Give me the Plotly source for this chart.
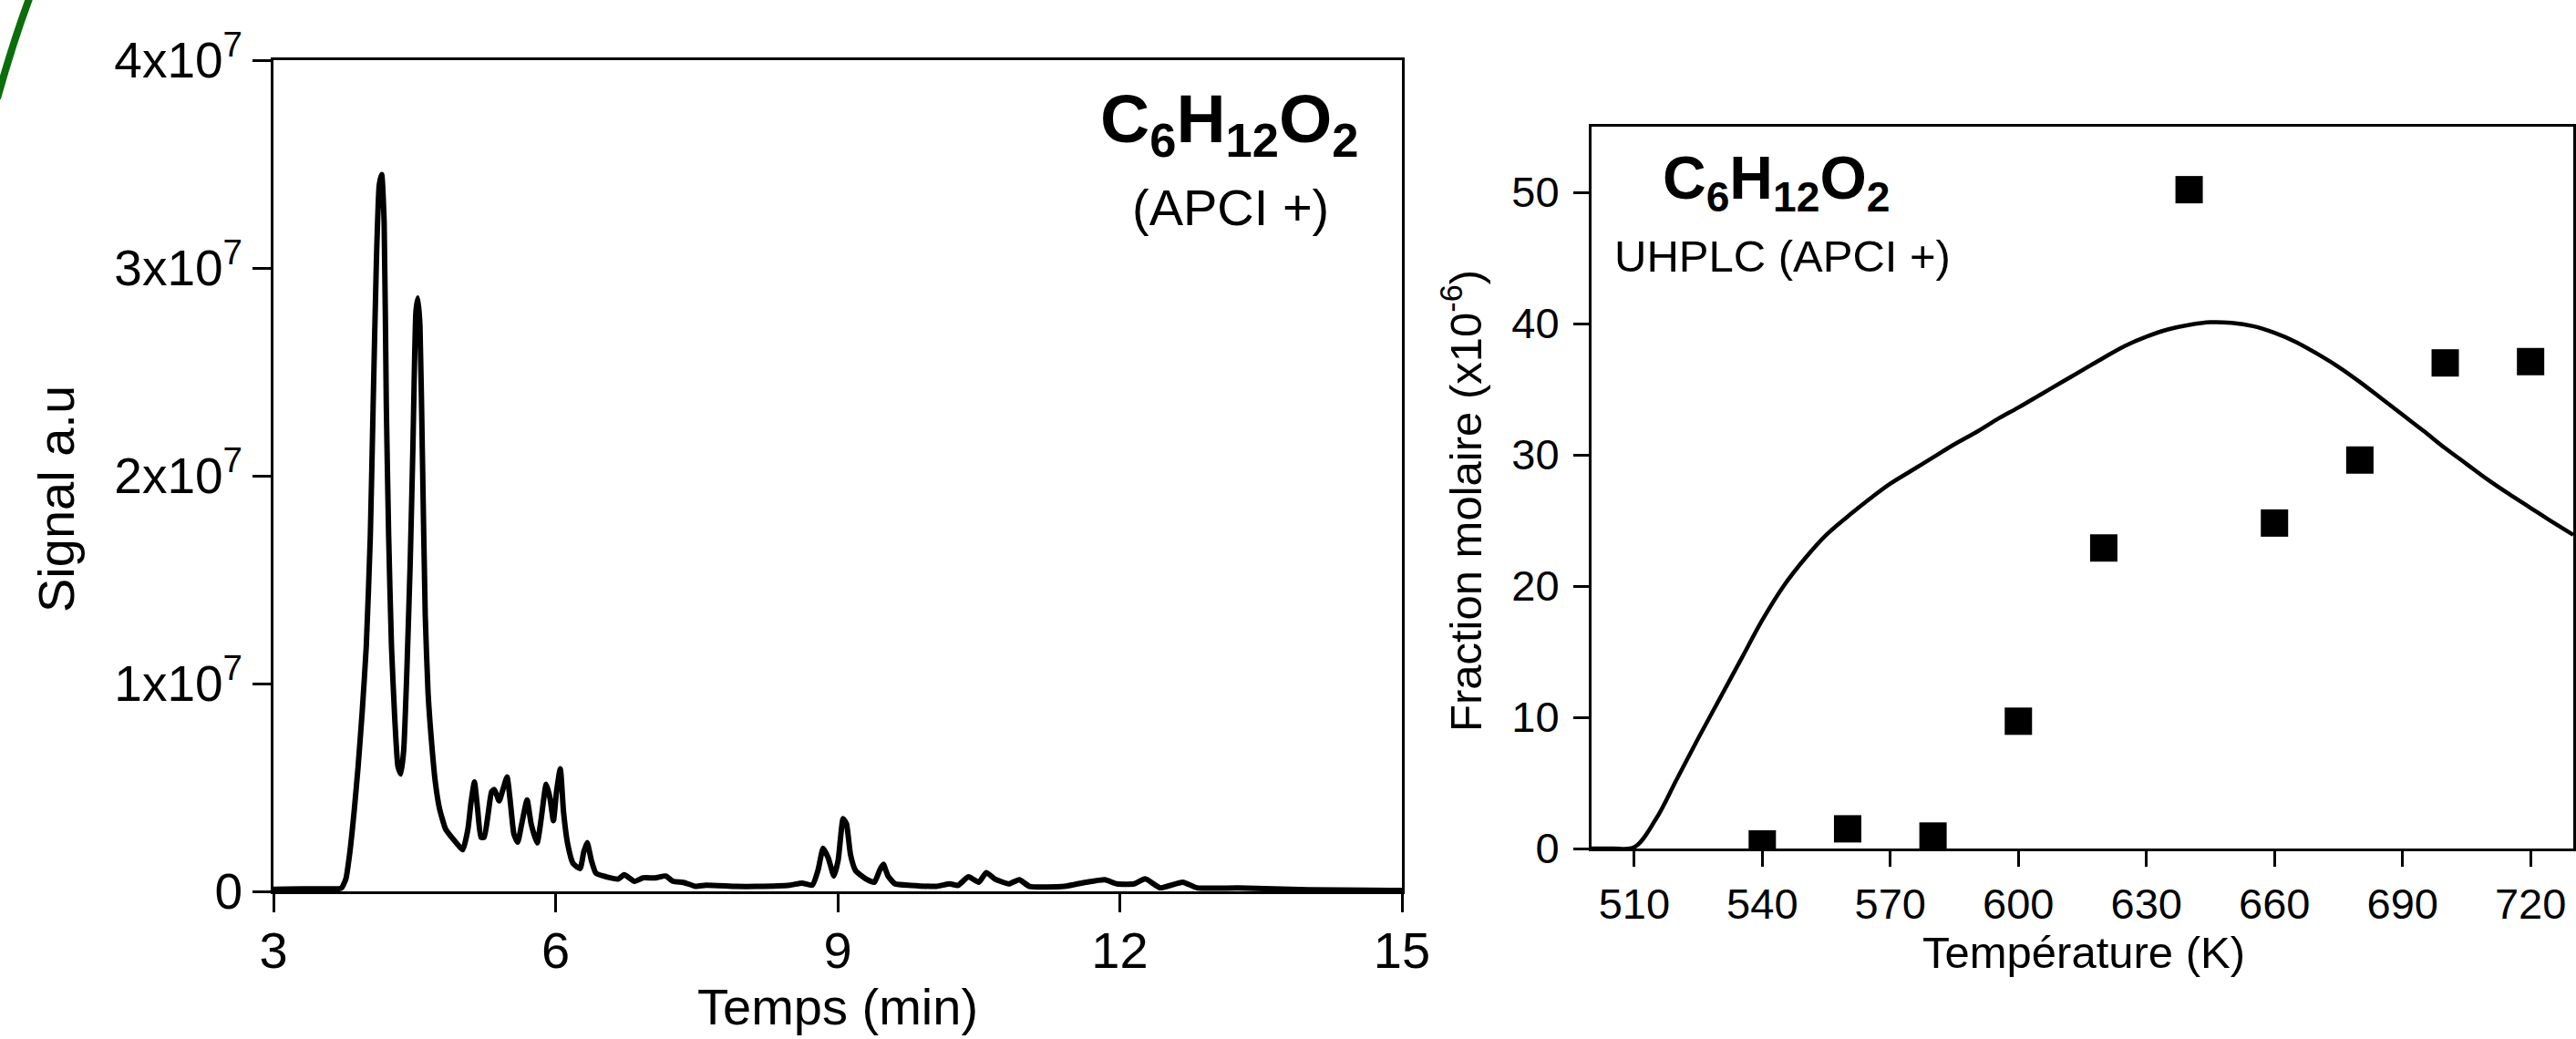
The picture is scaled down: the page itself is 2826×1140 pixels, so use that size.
import plotly.graph_objects as go

# ---------------- data: chromatogram (left) ----------------
time_min = [3.0, 3.3, 3.6, 3.72, 3.77, 3.81, 3.857, 3.90, 3.943, 3.987, 4.03, 4.06, 4.095, 4.125, 4.151,
            4.177, 4.20, 4.225, 4.255, 4.29, 4.324, 4.354, 4.385, 4.42, 4.454, 4.483, 4.515, 4.536,
            4.558, 4.584, 4.614, 4.644, 4.679, 4.72, 4.765, 4.83, 4.895, 4.96, 5.013, 5.068, 5.10,
            5.137, 5.17, 5.207, 5.24, 5.285, 5.32, 5.35, 5.40, 5.44, 5.484, 5.52, 5.557, 5.597, 5.64,
            5.697, 5.74, 5.804, 5.847, 5.90, 5.94, 5.977, 6.01, 6.05, 6.085, 6.13, 6.185, 6.26, 6.30,
            6.336, 6.38, 6.43, 6.54, 6.67, 6.73, 6.84, 6.93, 7.06, 7.17, 7.25, 7.36, 7.49, 7.60, 7.92,
            8.14, 8.49, 8.62, 8.73, 8.79, 8.845, 8.90, 8.96, 9.005, 9.058, 9.093, 9.137, 9.19, 9.30,
            9.39, 9.445, 9.485, 9.535, 9.61, 9.78, 10.05, 10.19, 10.28, 10.39, 10.50, 10.58, 10.67,
            10.82, 10.93, 11.04, 11.41, 11.64, 11.84, 11.97, 12.15, 12.27, 12.43, 12.67, 12.82, 13.26,
            14.0, 14.63, 15.0]
signal_1e7 = [0.010, 0.012, 0.012, 0.015, 0.06, 0.18, 0.38, 0.60, 0.86, 1.18, 1.71, 2.34, 3.04, 3.40, 3.45,
              3.22, 2.34, 1.71, 1.18, 0.83, 0.60, 0.565, 0.68, 1.08, 1.58, 2.14, 2.79, 2.855,
              2.72, 2.09, 1.33, 0.955, 0.73, 0.53, 0.40, 0.30, 0.26, 0.225, 0.20, 0.30, 0.425,
              0.526, 0.40, 0.26, 0.26, 0.38, 0.48, 0.49, 0.435, 0.49, 0.55, 0.425, 0.275, 0.237, 0.325,
              0.44, 0.325, 0.233, 0.35, 0.515, 0.45, 0.34, 0.48, 0.59, 0.38, 0.225, 0.135, 0.11, 0.19,
              0.235, 0.15, 0.087, 0.07, 0.06, 0.08, 0.048, 0.065, 0.065, 0.074, 0.048, 0.043, 0.024, 0.03, 0.024,
              0.024, 0.03, 0.04, 0.03, 0.10, 0.207, 0.16, 0.074, 0.15, 0.35, 0.325, 0.175, 0.10, 0.06,
              0.044, 0.10, 0.13, 0.074, 0.036, 0.029, 0.024, 0.036, 0.029, 0.07, 0.044, 0.09, 0.06,
              0.036, 0.056, 0.024, 0.024, 0.044, 0.056, 0.036, 0.036, 0.06, 0.017, 0.044, 0.017, 0.016,
              0.008, 0.005, 0.004]
signal = [v * 1e7 for v in signal_1e7]

left_xticks = [3, 6, 9, 12, 15]
left_yticks = [0, 1e7, 2e7, 3e7, 4e7]
left_yticklabels = ["0", "1x10<sup>7</sup>", "2x10<sup>7</sup>", "3x10<sup>7</sup>", "4x10<sup>7</sup>"]

# ---------------- data: mole fraction vs temperature (right) ----------------
model_T = [500, 505, 510, 515, 520, 525, 530, 535, 540, 545, 550, 555, 560, 565, 570, 575, 580, 585,
           590, 595, 600, 605, 610, 615, 620, 625, 630, 635, 640, 645, 650, 655, 660, 665, 670, 675,
           680, 685, 690, 695, 700, 705, 710, 715, 720, 725, 730]
model_x = [0, 0, 0.1, 2.2, 5.3, 8.4, 11.4, 14.4, 17.4, 20.0, 22.1, 23.9, 25.3, 26.6, 27.8, 28.8, 29.8, 30.8,
           31.7, 32.7, 33.6, 34.55, 35.5, 36.45, 37.4, 38.3, 39.0, 39.55, 39.9, 40.1, 40.05, 39.8, 39.3, 38.6,
           37.7, 36.7, 35.55, 34.3, 33.05, 31.8, 30.5, 29.3, 28.1, 27.0, 25.95, 24.9, 23.9]
exp_T = [540, 560, 580, 600, 620, 640, 660, 680, 700, 720]
exp_x = [0.35, 1.5, 0.95, 9.7, 22.9, 50.2, 24.8, 29.6, 37.0, 37.1]

right_xticks = [510, 540, 570, 600, 630, 660, 690, 720]
right_yticks = [0, 10, 20, 30, 40, 50]

# ---------------- figure ----------------
W, H = 2826, 1140
FONT = "Liberation Sans, Arial, sans-serif"


def px_x(p):
    return p / W


def px_y(p):
    return 1 - p / H


fig = go.Figure()
fig.add_trace(go.Scatter(x=time_min, y=signal, mode="lines",
                         line=dict(color="black", width=6, shape="spline", smoothing=0.5),
                         xaxis="x", yaxis="y", showlegend=False))
fig.add_trace(go.Scatter(x=model_T, y=model_x, mode="lines",
                         line=dict(color="black", width=4.5, shape="spline", smoothing=1.0),
                         xaxis="x2", yaxis="y2", showlegend=False))
fig.add_trace(go.Scatter(x=exp_T, y=exp_x, mode="markers",
                         marker=dict(symbol="square", size=30, color="black"),
                         xaxis="x2", yaxis="y2", showlegend=False))

axis_common = dict(showgrid=False, zeroline=False, showline=True, linecolor="black", linewidth=3,
                   mirror=True, ticks="outside", tickcolor="black", tickwidth=3, automargin=False)

fig.update_layout(
    template="none",
    width=W, height=H,
    margin=dict(l=0, r=0, t=0, b=0, autoexpand=False),
    paper_bgcolor="white", plot_bgcolor="white",
    font=dict(family=FONT, color="black"),
    xaxis=dict(domain=[px_x(300), px_x(1538)], range=[3, 15], tickvals=left_xticks,
               ticklen=20, tickfont=dict(size=56), anchor="y", ticklabelstandoff=-6, **axis_common),
    yaxis=dict(domain=[px_y(978), px_y(66)], range=[0, 4e7], tickvals=left_yticks,
               ticktext=left_yticklabels, ticklen=20, tickfont=dict(size=55), anchor="x",
               ticklabelstandoff=0, **axis_common),
    xaxis2=dict(domain=[px_x(1746), px_x(2823)], range=[500, 730], tickvals=right_xticks,
                ticklen=17, tickfont=dict(size=47), anchor="y2", ticklabelstandoff=1, **axis_common),
    yaxis2=dict(domain=[px_y(931), px_y(139)], range=[0, 55], tickvals=right_yticks,
                ticklen=17, tickfont=dict(size=47), anchor="x2", ticklabelstandoff=6, **axis_common),
)

annotations = [
    # left panel
    dict(text="Temps (min)", x=px_x(919), y=px_y(1104), font=dict(size=56)),
    dict(text="Signal a.u", x=px_x(62), y=px_y(548), font=dict(size=56), textangle=-90),
    dict(text="<b>C<sub>6</sub>H<sub>12</sub>O<sub>2</sub></b>", x=px_x(1349), y=px_y(135),
         font=dict(size=75)),
    dict(text="(APCI +)", x=px_x(1350), y=px_y(227), font=dict(size=56)),
    # right panel
    dict(text="Température (K)", x=px_x(2286), y=px_y(1045), font=dict(size=49)),
    dict(text="Fraction molaire (x10<sup>-6</sup>)", x=px_x(1604), y=px_y(549), font=dict(size=49),
         textangle=-90),
    dict(text="<b>C<sub>6</sub>H<sub>12</sub>O<sub>2</sub></b>", x=px_x(1948), y=px_y(200),
         font=dict(size=66)),
    dict(text="UHPLC (APCI +)", x=px_x(1956), y=px_y(281), font=dict(size=49)),
]
for a in annotations:
    a.update(xref="paper", yref="paper", showarrow=False, xanchor="center", yanchor="middle")
    a["font"].update(family=FONT, color="black")
fig.update_layout(annotations=annotations)

# decorative green arc in the top-left corner
fig.add_shape(type="path", xref="paper", yref="paper",
              path=f"M {px_x(36)},{px_y(-12)} Q {px_x(16)},{px_y(40)} {px_x(-3)},{px_y(108)}",
              line=dict(color="#0b6e0b", width=8))

fig.write_html("out.html", config={"displayModeBar": False},
               post_script="document.body.style.margin='0';")
